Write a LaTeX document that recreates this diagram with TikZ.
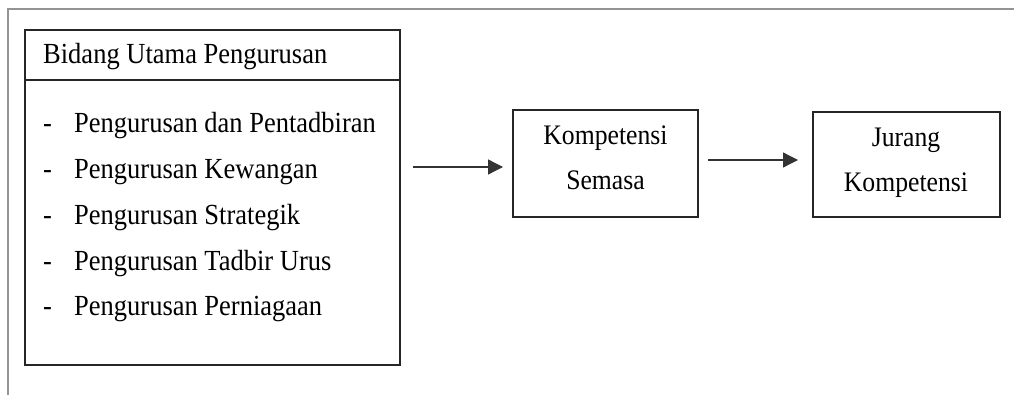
\documentclass[tikz,border=0pt]{standalone}
\usepackage{fontspec}
\setmainfont{Liberation Serif}
\usetikzlibrary{arrows.meta}
\newcommand{\tall}[1]{\scalebox{1}[1.1]{#1}}
\begin{document}
\begin{tikzpicture}[x=1pt,y=-1pt,
  box/.style={draw=black!85,line width=2.2pt,inner sep=0pt},
  txt/.style={font=\fontsize{26.5}{30}\selectfont,inner sep=0pt,anchor=base west},
  ctxt/.style={font=\fontsize{25.7}{30}\selectfont,inner sep=0pt,anchor=base},
  arr/.style={line width=1.3pt,draw=black!80,-{Triangle[length=15pt,width=15pt]}}]
\useasboundingbox (0,0) rectangle (1014,395);
% outer gray frame (top and left)
\draw[line width=2pt,color=black!42] (1014,9.5) -- (8,9.5) -- (8,395);
% left box
\node[box,minimum width=375pt,minimum height=335pt] (left) at (212.5,197.5) {};
\coordinate (hdl) at (25,80);
\coordinate (hdr) at (400,80);
\draw[line width=2.2pt,draw=black!85] (hdl) -- (hdr);
\node[txt] (hdr-t) at (43,64) {\tall{Bidang Utama Pengurusan}};
\foreach \y/\t [count=\i] in {133/Pengurusan dan Pentadbiran,179/Pengurusan Kewangan,225/Pengurusan Strategik,270/Pengurusan Tadbir Urus,315/Pengurusan Perniagaan}{
  \node[txt] (d\i) at (43,\y) {\tall{-}};
  \node[txt] (it\i) at (74,\y) {\tall{\t}};
}
% middle box
\node[box,minimum width=185pt,minimum height=107pt] (mid) at (605.5,163.5) {};
\node[ctxt] (m1) at (605.5,145) {\tall{Kompetensi}};
\node[ctxt] (m2) at (605.5,190) {\tall{Semasa}};
% right box
\node[box,minimum width=187pt,minimum height=105pt] (right) at (906.5,164.5) {};
\node[ctxt] (r1) at (906,147) {\tall{Jurang}};
\node[ctxt] (r2) at (906,192) {\tall{Kompetensi}};
% arrows
\coordinate (a1s) at (413,167);
\coordinate (a1e) at (503,167);
\coordinate (a2s) at (708,160);
\coordinate (a2e) at (798,160);
\draw[arr] (a1s) -- (a1e);
\draw[arr] (a2s) -- (a2e);
\end{tikzpicture}
\end{document}
